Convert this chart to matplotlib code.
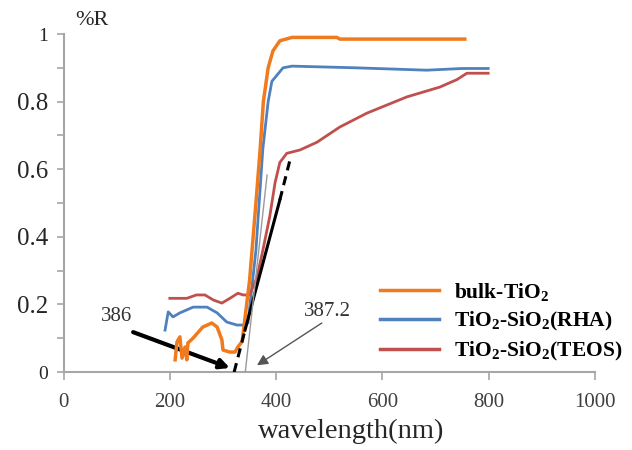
import matplotlib
matplotlib.use("Agg")
import matplotlib.pyplot as plt

plt.rcParams['font.family'] = ['Liberation Serif', 'DejaVu Serif']
plt.rcParams['mathtext.fontset'] = 'custom'
plt.rcParams['mathtext.rm'] = 'Liberation Serif:bold'
plt.rcParams['mathtext.bf'] = 'Liberation Serif:bold'

# ---- data ----
bulk_x = [210, 213.5, 219, 223, 228.6, 232, 234, 243.6, 262, 279, 289, 298, 300, 313, 322.6, 328, 336,
          350, 362, 370, 376, 385, 394, 407, 430, 470, 514, 520, 600, 700, 755]
bulk_y = [0.036, 0.089, 0.104, 0.041, 0.074, 0.036, 0.086, 0.10, 0.133, 0.145, 0.133, 0.095, 0.065, 0.059, 0.059, 0.074, 0.09,
          0.27, 0.50, 0.66, 0.80, 0.90, 0.95, 0.98, 0.99, 0.99, 0.99, 0.985, 0.985, 0.985, 0.985]

rha_x = [191, 197, 206, 219, 244, 270, 289, 307, 326, 338, 347,
         362, 375, 385, 392, 413, 430, 550, 683, 750, 799]
rha_y = [0.124, 0.178, 0.163, 0.175, 0.192, 0.192, 0.175, 0.148, 0.139, 0.139, 0.145,
         0.36, 0.66, 0.80, 0.86, 0.90, 0.905, 0.90, 0.893, 0.898, 0.898]

teos_x = [200, 232, 250, 266, 282, 298, 313, 328, 338, 350,
          364, 375, 388, 398, 407, 420, 445, 477, 520, 571, 646, 708, 740, 759, 799]
teos_y = [0.218, 0.218, 0.228, 0.228, 0.213, 0.204, 0.218, 0.233, 0.228, 0.228,
          0.28, 0.36, 0.46, 0.56, 0.62, 0.647, 0.657, 0.68, 0.725, 0.766, 0.814, 0.843, 0.865, 0.884, 0.884]

labels = ['bulk-TiO$_\\mathbf{2}$', 'TiO$_\\mathbf{2}$-SiO$_\\mathbf{2}$(RHA)', 'TiO$_\\mathbf{2}$-SiO$_\\mathbf{2}$(TEOS)']

# tangent lines (band-edge extrapolation)
teos_tan_x = [321, 341.5, 407, 426]
teos_tan_y = [0.0, 0.124, 0.509, 0.627]
rha_tan_x = [342, 383]
rha_tan_y = [0.0, 0.583]

# annotation text and arrow anchors (data coords)
ann_text = ['386', '387.2']
ann_text_pos = [(99, 0.163), (497, 0.18)]
ann_arrow_from = [(131, 0.118), (486, 0.145)]
ann_arrow_to = [(313, 0.012), (364, 0.02)]

x_ticks = [0, 200, 400, 600, 800, 1000]
y_ticks = [0, 0.2, 0.4, 0.6, 0.8, 1.0]
y_tick_labels = ['0', '0.2', '0.4', '0.6', '0.8', '1']

ORANGE = '#F07A1E'
BLUE = '#4F81BD'
RED = '#C0504D'
AXIS_GREY = '#A6A6A6'

fig = plt.figure(figsize=(6.32, 4.5), dpi=100)
ax = fig.add_axes([0.1005, 0.1733, 0.841, 0.7511])

ax.plot(bulk_x, bulk_y, color=ORANGE, lw=2.5, label=labels[0], zorder=4)
ax.plot(rha_x, rha_y, color=BLUE, lw=2.0, label=labels[1], zorder=3)
ax.plot(teos_x, teos_y, color=RED, lw=2.0, label=labels[2], zorder=3)

# tangents
ax.plot(teos_tan_x[:2], teos_tan_y[:2], color='black', lw=2.2, ls=(0, (3, 2)), zorder=5)
ax.plot(teos_tan_x[1:3], teos_tan_y[1:3], color='black', lw=2.2, zorder=5)
ax.plot(teos_tan_x[2:], teos_tan_y[2:], color='black', lw=2.2, ls=(0, (3, 2)), zorder=5)
ax.plot(rha_tan_x, rha_tan_y, color='#9a9a9a', lw=1.0, zorder=5)

# annotations
for txt, pos in zip(ann_text, ann_text_pos):
    ax.text(pos[0], pos[1], txt, fontsize=15, color='#333333', ha='center', va='center')
ax.annotate('', xy=ann_arrow_to[0], xytext=ann_arrow_from[0],
            arrowprops=dict(arrowstyle='-|>', lw=3, color='black', mutation_scale=14,
                            shrinkA=0, shrinkB=0))
ax.annotate('', xy=ann_arrow_to[1], xytext=ann_arrow_from[1],
            arrowprops=dict(arrowstyle='-|>', lw=1, color='#555555', mutation_scale=16,
                            shrinkA=0, shrinkB=0))

ax.set_xlim(0, 1000)
ax.set_ylim(0, 1)
ax.set_xticks(x_ticks)
ax.set_yticks(y_ticks)
ax.set_yticklabels(y_tick_labels)
ax.set_yticks([0.1, 0.3, 0.5, 0.7, 0.9], minor=True)

for s in ['top', 'right']:
    ax.spines[s].set_visible(False)
for s in ['left', 'bottom']:
    ax.spines[s].set_color(AXIS_GREY)
    ax.spines[s].set_linewidth(1.5)

ax.tick_params(axis='x', which='major', length=6, width=1.2, color=AXIS_GREY, labelsize=15,
               labelcolor='#404040', pad=9)
ax.tick_params(axis='y', which='both', length=5, width=1.2, color=AXIS_GREY, labelsize=18,
               labelcolor='#262626', pad=6)
for lab in ax.get_yticklabels():
    if lab.get_text() in ('0', '1'):
        lab.set_fontsize(14)

ax.set_xlabel('wavelength(nm)', fontsize=20.5, color='#262626', labelpad=3)
ax.xaxis.set_label_coords(0.541, -0.14)
fig.text(0.119, 0.955, '%R', fontsize=16, color='#262626', ha='left', va='center')

leg = ax.legend(loc='upper left', bbox_to_anchor=(380 / 632, 1 - 281 / 450),
                bbox_transform=fig.transFigure, frameon=False, fontsize=15.5,
                handlelength=2.75, handletextpad=0.7, labelspacing=0.3,
                borderpad=0, borderaxespad=0)
for t in leg.get_texts():
    t.set_fontweight('bold')
for h in leg.get_lines():
    h.set_linewidth(2.5)

fig.savefig('out.png', dpi=100)
